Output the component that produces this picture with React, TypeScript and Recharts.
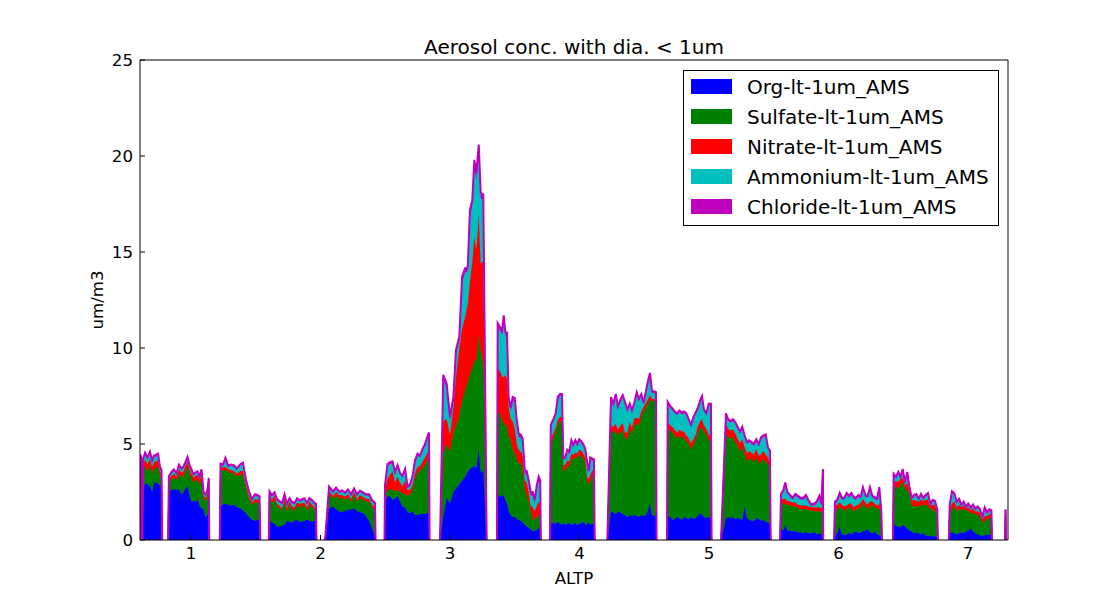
import React from 'react';
import { ComposedChart, Area, XAxis, YAxis, Legend } from 'recharts';

const FONT = '"DejaVu Sans", "Bitstream Vera Sans", sans-serif';

const TITLE = 'Aerosol conc. with dia. < 1um';
const X_LABEL = 'ALTP';
const Y_LABEL = 'um/m3';
const X_TICKS = [1, 2, 3, 4, 5, 6, 7];
const Y_TICKS = [0, 5, 10, 15, 20, 25];
const X_DOMAIN: [number, number] = [0.606, 7.309];
const Y_DOMAIN: [number, number] = [0, 25];

const SERIES = [
  { key: 'org', name: 'Org-lt-1um_AMS', color: '#0000ff', width: 1 },
  { key: 'sulfate', name: 'Sulfate-lt-1um_AMS', color: '#008000', width: 1 },
  { key: 'nitrate', name: 'Nitrate-lt-1um_AMS', color: '#ff0000', width: 1 },
  { key: 'ammonium', name: 'Ammonium-lt-1um_AMS', color: '#00bfbf', width: 1 },
  { key: 'chloride', name: 'Chloride-lt-1um_AMS', color: '#bf00bf', width: 2 },
];

// ALTP where each flight-leg segment rises from / falls back to zero
const SEGMENT_EDGES: [number, number][] = [
  [0.607, 0.619],
  [0.624, 0.777], [0.823, 1.141], [1.222, 1.535], [1.601, 1.969], [2.035, 2.425],
  [2.494, 2.842], [2.923, 3.283], [3.363, 3.701], [3.772, 4.117], [4.215, 4.595],
  [4.676, 5.02], [5.093, 5.476], [5.549, 5.882], [5.966, 6.335], [6.42, 6.767],
  [6.852, 7.185], [7.286, 7.294],
];

const ALTP = [
  [0.609, 0.616],
  [0.629, 0.645, 0.664, 0.683, 0.699, 0.714, 0.730, 0.745, 0.761, 0.772],
  [0.829, 0.849, 0.868, 0.888, 0.907, 0.927, 0.942, 0.958, 0.973, 0.988, 1.004, 1.019, 1.035, 1.050, 1.066, 1.081, 1.097, 1.112, 1.127, 1.137],
  [1.228, 1.247, 1.266, 1.286, 1.309, 1.332, 1.355, 1.378, 1.401, 1.425, 1.448, 1.471, 1.494, 1.517, 1.529],
  [1.606, 1.625, 1.645, 1.664, 1.683, 1.703, 1.722, 1.741, 1.761, 1.780, 1.799, 1.819, 1.838, 1.857, 1.876, 1.896, 1.915, 1.934, 1.954, 1.965],
  [2.066, 2.097, 2.120, 2.143, 2.166, 2.189, 2.212, 2.236, 2.259, 2.282, 2.305, 2.328, 2.351, 2.375, 2.398, 2.421],
  [2.498, 2.517, 2.537, 2.556, 2.575, 2.595, 2.614, 2.633, 2.653, 2.672, 2.691, 2.710, 2.730, 2.749, 2.768, 2.788, 2.807, 2.826, 2.838],
  [2.948, 2.974, 3.000, 3.026, 3.046, 3.072, 3.093, 3.116, 3.137, 3.154, 3.172, 3.188, 3.203, 3.222, 3.237, 3.257],
  [3.368, 3.386, 3.402, 3.415, 3.427, 3.440, 3.453, 3.469, 3.484, 3.500, 3.515, 3.530, 3.546, 3.561, 3.577, 3.592, 3.608, 3.623, 3.639, 3.654, 3.670, 3.685, 3.697],
  [3.778, 3.798, 3.816, 3.832, 3.849, 3.865, 3.875, 3.890, 3.906, 3.921, 3.937, 3.952, 3.968, 3.983, 3.998, 4.014, 4.029, 4.045, 4.058, 4.071, 4.083, 4.097, 4.112],
  [4.243, 4.261, 4.280, 4.297, 4.315, 4.334, 4.351, 4.369, 4.388, 4.405, 4.423, 4.442, 4.459, 4.477, 4.496, 4.514, 4.529, 4.544, 4.560, 4.575, 4.591],
  [4.681, 4.699, 4.717, 4.735, 4.753, 4.771, 4.789, 4.807, 4.825, 4.843, 4.861, 4.879, 4.897, 4.915, 4.933, 4.946, 4.961, 4.979, 4.998, 5.015],
  [5.131, 5.148, 5.166, 5.185, 5.203, 5.221, 5.239, 5.257, 5.275, 5.293, 5.311, 5.330, 5.347, 5.365, 5.384, 5.402, 5.419, 5.438, 5.456, 5.471],
  [5.556, 5.574, 5.589, 5.605, 5.625, 5.646, 5.667, 5.687, 5.708, 5.728, 5.749, 5.770, 5.790, 5.811, 5.832, 5.852, 5.867, 5.880],
  [5.973, 5.991, 6.009, 6.027, 6.045, 6.063, 6.081, 6.099, 6.117, 6.135, 6.153, 6.171, 6.189, 6.207, 6.225, 6.243, 6.261, 6.279, 6.297, 6.315, 6.331],
  [6.426, 6.444, 6.462, 6.480, 6.496, 6.514, 6.531, 6.547, 6.565, 6.583, 6.601, 6.619, 6.637, 6.655, 6.673, 6.691, 6.709, 6.727, 6.745, 6.763],
  [6.859, 6.876, 6.894, 6.913, 6.931, 6.948, 6.967, 6.985, 7.002, 7.021, 7.039, 7.056, 7.075, 7.093, 7.111, 7.129, 7.147, 7.165, 7.181],
  [7.289, 7.291],
];

const ORG = [
  [2.95, 2.9],
  [2.6, 2.95, 2.9, 2.8, 2.5, 3.0, 3.0, 2.95, 2.8, 2.75],
  [2.55, 2.6, 2.65, 2.6, 2.65, 2.35, 2.5, 2.7, 2.8, 2.4, 1.95, 2.05, 2.0, 2.1, 1.8, 1.65, 1.6, 1.2, 1.3, 1.55],
  [1.75, 1.85, 1.9, 1.85, 1.8, 1.85, 1.7, 1.65, 1.55, 1.4, 1.2, 1.05, 1.0, 1.05, 1.0],
  [0.95, 0.9, 0.85, 0.7, 0.7, 0.75, 0.8, 1.0, 0.95, 0.9, 1.0, 1.05, 0.95, 0.95, 1.0, 1.05, 1.0, 0.95, 1.0, 0.95],
  [1.65, 1.75, 1.6, 1.5, 1.45, 1.55, 1.55, 1.6, 1.65, 1.5, 1.45, 1.4, 1.25, 1.0, 0.6, 0.2],
  [2.0, 2.3, 2.25, 2.1, 2.15, 2.3, 2.0, 1.75, 1.7, 1.45, 1.4, 1.5, 1.3, 1.3, 1.35, 1.35, 1.35, 1.4, 1.35],
  [1.2, 2.2, 1.9, 2.5, 2.7, 2.9, 3.1, 3.3, 3.55, 3.7, 3.8, 3.85, 3.7, 4.7, 3.5, 3.65],
  [2.3, 2.25, 2.35, 2.3, 2.1, 1.9, 1.5, 1.3, 1.2, 1.2, 1.1, 1.05, 1.0, 0.9, 0.8, 0.7, 0.65, 0.55, 0.5, 0.45, 0.55, 0.6, 0.6],
  [0.8, 0.9, 0.85, 0.95, 0.85, 0.8, 0.9, 0.8, 0.85, 0.9, 0.8, 0.85, 0.9, 0.8, 0.85, 0.9, 0.95, 0.8, 0.85, 0.9, 0.8, 0.85, 0.8],
  [1.5, 1.45, 1.35, 1.5, 1.45, 1.35, 1.3, 1.2, 1.3, 1.25, 1.3, 1.25, 1.2, 1.3, 1.25, 1.3, 1.55, 1.9, 1.3, 1.25, 1.3],
  [1.25, 1.2, 1.05, 1.1, 1.2, 1.15, 1.05, 1.2, 1.15, 1.1, 1.2, 1.1, 1.15, 1.3, 1.4, 1.3, 1.2, 1.15, 1.2, 1.15],
  [1.15, 1.2, 1.15, 1.2, 1.1, 1.15, 1.1, 1.05, 1.75, 1.15, 1.05, 1.0, 1.0, 1.15, 1.1, 1.0, 1.05, 0.95, 0.9, 0.85],
  [0.55, 0.5, 0.8, 0.5, 0.5, 0.45, 0.45, 0.4, 0.4, 0.35, 0.4, 0.35, 0.35, 0.4, 0.3, 0.35, 0.3, 0.35],
  [0.2, 0.35, 0.7, 0.3, 0.25, 0.3, 0.35, 0.3, 0.4, 0.45, 0.35, 0.4, 0.45, 0.5, 0.55, 0.4, 0.35, 0.45, 0.3, 0.25, 0.2],
  [0.8, 0.75, 0.7, 0.65, 0.8, 0.7, 0.6, 0.5, 0.45, 0.35, 0.4, 0.35, 0.3, 0.35, 0.25, 0.2, 0.25, 0.2, 0.2, 0.15],
  [0.35, 0.4, 0.35, 0.3, 0.35, 0.4, 0.35, 0.45, 0.5, 0.6, 0.45, 0.35, 0.3, 0.25, 0.2, 0.25, 0.3, 0.25, 0.3],
  [0.3, 0.3],
];

const SULFATE = [
  [0.8, 0.75],
  [0.9, 0.9, 0.7, 1.1, 0.95, 0.7, 0.75, 0.85, 0.55, 0.45],
  [0.45, 0.55, 0.6, 0.5, 0.8, 0.9, 0.85, 0.9, 1.0, 1.05, 1.25, 0.95, 1.1, 1.05, 1.1, 1.5, 0.55, 0.85, 1.0, 1.3],
  [1.85, 1.8, 1.75, 1.7, 1.7, 1.6, 1.6, 1.75, 1.85, 1.3, 0.95, 0.8, 0.95, 0.9, 0.9],
  [1.2, 1.05, 1.25, 1.05, 0.95, 0.8, 1.2, 0.5, 0.85, 0.7, 0.55, 0.75, 0.75, 0.8, 0.8, 0.5, 0.8, 0.75, 0.55, 0.55],
  [0.75, 0.4, 0.75, 0.65, 0.75, 0.55, 0.7, 0.4, 0.65, 0.5, 0.75, 0.7, 0.75, 1.0, 1.1, 1.35],
  [0.3, 0.3, 0.4, 0.5, 0.4, 0.3, 0.5, 0.7, 0.7, 0.85, 0.95, 1.1, 1.9, 2.2, 2.25, 2.45, 2.55, 2.8, 2.95],
  [3.3, 2.8, 2.7, 3.1, 3.2, 3.6, 4.1, 4.5, 4.65, 4.9, 5.2, 5.45, 5.7, 6.0, 6.3, 5.55],
  [4.3, 4.35, 3.85, 3.75, 3.9, 4.0, 3.9, 3.9, 3.5, 3.3, 3.1, 2.95, 3.0, 2.7, 1.8, 1.6, 1.35, 0.95, 0.55, 0.65, 0.65, 0.7, 0.6],
  [4.2, 4.4, 4.75, 5.05, 5.35, 5.4, 2.7, 2.8, 3.05, 2.9, 3.4, 3.35, 3.4, 3.5, 3.6, 3.45, 3.25, 3.2, 2.1, 2.05, 2.3, 2.45, 2.65],
  [4.1, 4.15, 4.35, 3.95, 4.15, 4.35, 3.95, 4.1, 4.5, 4.25, 4.7, 4.75, 4.8, 5.1, 5.45, 5.6, 5.55, 5.4, 5.95, 6.0, 5.95],
  [4.5, 4.5, 4.55, 4.3, 4.1, 4.25, 4.3, 4.1, 4.0, 3.9, 3.5, 3.85, 4.05, 4.3, 4.4, 4.6, 4.45, 4.35, 4.0, 3.95],
  [4.45, 4.15, 4.15, 4.15, 4.0, 3.75, 3.5, 3.8, 2.7, 2.95, 3.2, 3.2, 3.05, 3.2, 2.9, 3.05, 3.2, 3.1, 3.05, 2.75],
  [1.35, 1.4, 1.05, 1.35, 1.3, 1.3, 1.3, 1.25, 1.2, 1.25, 1.2, 1.2, 1.2, 1.1, 1.2, 1.15, 1.15, 1.25],
  [1.35, 1.25, 1.0, 1.35, 1.25, 1.3, 1.35, 1.35, 1.1, 1.1, 1.3, 1.3, 1.45, 1.25, 1.05, 1.35, 1.45, 1.25, 1.3, 1.4, 1.25],
  [1.95, 2.0, 2.0, 2.25, 2.15, 2.0, 2.0, 1.9, 1.3, 1.45, 1.35, 1.4, 1.5, 1.5, 1.55, 1.6, 1.35, 1.4, 1.3, 1.25],
  [1.05, 1.2, 1.4, 1.2, 1.25, 1.15, 1.25, 1.1, 1.0, 0.8, 0.95, 1.0, 1.0, 0.95, 0.7, 0.75, 0.8, 0.9, 0.9],
  [0.9, 0.9],
];

const NITRATE = [
  [0.3, 0.3],
  [0.35, 0.35, 0.35, 0.35, 0.35, 0.35, 0.35, 0.35, 0.2, 0.2],
  [0.15, 0.2, 0.2, 0.2, 0.25, 0.25, 0.25, 0.25, 0.3, 0.25, 0.25, 0.25, 0.25, 0.25, 0.25, 0.3, 0.15, 0.15, 0.15, 0.2],
  [0.15, 0.15, 0.15, 0.15, 0.15, 0.15, 0.15, 0.2, 0.2, 0.15, 0.15, 0.1, 0.2, 0.15, 0.15],
  [0.15, 0.15, 0.2, 0.15, 0.15, 0.1, 0.15, 0.15, 0.2, 0.15, 0.15, 0.15, 0.2, 0.15, 0.15, 0.15, 0.2, 0.15, 0.15, 0.15],
  [0.15, 0.15, 0.15, 0.2, 0.15, 0.15, 0.15, 0.15, 0.2, 0.15, 0.15, 0.15, 0.15, 0.15, 0.15, 0.15],
  [0.3, 0.6, 0.75, 1.0, 0.45, 0.7, 0.5, 0.35, 0.7, 0.3, 0.25, 0.25, 0.3, 0.3, 0.25, 0.3, 0.4, 0.35, 0.4],
  [1.7, 1.3, 0.9, 1.3, 2.6, 3.5, 3.8, 3.8, 4.1, 4.9, 5.5, 6.5, 5.7, 6.3, 4.6, 5.3],
  [2.3, 2.2, 2.3, 2.45, 2.6, 2.5, 1.5, 1.1, 1.5, 1.3, 0.8, 0.7, 0.6, 0.8, 0.5, 0.7, 0.5, 0.3, 0.65, 0.4, 0.6, 0.7, 0.7],
  [0.3, 0.25, 0.25, 0.25, 0.2, 0.2, 0.3, 0.3, 0.25, 0.3, 0.3, 0.25, 0.25, 0.2, 0.25, 0.3, 0.3, 0.3, 0.3, 0.25, 0.3, 0.3, 0.3],
  [0.35, 0.3, 0.35, 0.3, 0.35, 0.4, 0.35, 0.3, 0.35, 0.35, 0.35, 0.35, 0.3, 0.3, 0.25, 0.25, 0.25, 0.25, 0.1, 0.1, 0.05],
  [0.3, 0.3, 0.3, 0.35, 0.3, 0.35, 0.3, 0.35, 0.3, 0.3, 0.35, 0.3, 0.3, 0.35, 0.4, 0.4, 0.3, 0.3, 0.3, 0.3],
  [0.4, 0.45, 0.4, 0.4, 0.45, 0.4, 0.45, 0.4, 0.4, 0.4, 0.4, 0.35, 0.4, 0.4, 0.4, 0.4, 0.4, 0.4, 0.35, 0.35],
  [0.2, 0.25, 0.3, 0.2, 0.2, 0.2, 0.2, 0.2, 0.2, 0.2, 0.2, 0.2, 0.15, 0.2, 0.2, 0.2, 0.2, 0.2],
  [0.2, 0.25, 0.25, 0.2, 0.25, 0.2, 0.2, 0.25, 0.2, 0.25, 0.2, 0.25, 0.25, 0.2, 0.25, 0.25, 0.2, 0.2, 0.2, 0.25, 0.0],
  [0.3, 0.3, 0.35, 0.3, 0.3, 0.2, 0.35, 0.3, 0.3, 0.3, 0.3, 0.25, 0.3, 0.2, 0.3, 0.3, 0.2, 0.25, 0.3, 0.1],
  [0.2, 0.3, 0.25, 0.2, 0.25, 0.15, 0.2, 0.1, 0.2, 0.15, 0.25, 0.15, 0.2, 0.2, 0.15, 0.25, 0.15, 0.2, 0.15],
  [0.15, 0.15],
];

const AMMONIUM = [
  [0.3, 0.25],
  [0.25, 0.25, 0.25, 0.25, 0.25, 0.25, 0.25, 0.25, 0.15, 0.15],
  [0.1, 0.1, 0.15, 0.1, 0.15, 0.15, 0.15, 0.15, 0.15, 0.15, 0.15, 0.1, 0.1, 0.1, 0.1, 0.15, 0.1, 0.1, 0.1, 0.1],
  [0.15, 0.05, 0.4, 0.1, 0.2, 0.2, 0.2, 0.25, 0.35, 0.2, 0.15, 0.1, 0.15, 0.15, 0.15],
  [0.15, 0.15, 0.1, 0.15, 0.15, 0.2, 0.15, 0.15, 0.1, 0.15, 0.15, 0.15, 0.1, 0.15, 0.15, 0.15, 0.1, 0.15, 0.15, 0.15],
  [0.15, 0.15, 0.15, 0.1, 0.15, 0.15, 0.15, 0.15, 0.1, 0.15, 0.15, 0.15, 0.15, 0.15, 0.15, 0.15],
  [0.15, 0.65, 0.55, 0.4, 0.45, 0.5, 0.4, 0.45, 0.5, 0.1, 0.2, 0.35, 0.55, 0.6, 0.45, 0.55, 0.6, 0.75, 0.8],
  [2.2, 1.6, 0.7, 0.35, 1.2, 0.4, 2.4, 2.3, 1.7, 3.4, 2.9, 3.6, 3.7, 3.2, 3.4, 3.2],
  [2.2, 2.1, 2.2, 3.0, 2.05, 2.2, 0.3, 0.4, 1.05, 1.4, 1.1, 0.65, 0.7, 0.7, 0.35, 0.4, 0.4, 0.5, 0.6, 0.4, 0.85, 1.1, 1.0],
  [0.6, 0.65, 0.65, 1.1, 1.1, 1.1, 0.3, 0.3, 0.45, 0.4, 0.6, 0.4, 0.55, 0.4, 0.45, 0.4, 0.4, 0.35, 0.75, 0.3, 0.8, 0.55, 0.35],
  [1.4, 1.1, 1.45, 1.1, 1.25, 1.35, 1.5, 1.1, 0.85, 0.8, 0.7, 1.25, 0.95, 0.8, 0.1, 0.55, 0.85, 1.05, 0.3, 0.3, 0.3],
  [1.05, 0.9, 0.85, 0.85, 0.9, 0.9, 0.9, 0.95, 1.05, 0.9, 0.85, 1.05, 1.05, 0.85, 1.0, 1.1, 0.75, 0.7, 1.5, 1.6],
  [0.5, 0.4, 0.4, 0.45, 0.5, 0.5, 0.5, 0.55, 0.5, 0.5, 0.45, 0.45, 0.45, 0.4, 0.5, 0.8, 0.7, 0.95, 0.4, 0.6],
  [0.2, 0.35, 0.75, 0.35, 0.25, 0.15, 0.35, 0.35, 0.3, 0.3, 0.45, 0.2, 0.05, 0.1, 0.2, 0.5, 0.15, 0.2],
  [0.15, 0.15, 0.4, 0.25, 0.35, 0.55, 0.3, 0.45, 0.45, 0.3, 0.4, 0.2, 0.5, 0.3, 0.35, 0.65, 0.2, 0.25, 0.25, 0.75, 0.0],
  [0.3, 0.15, 0.4, 0.0, 0.35, 0.0, 0.5, 0.0, 0.05, 0.15, 0.25, 0.05, 0.2, 0.05, 0.15, 0.25, 0.0, 0.15, 0.15, 0.0],
  [0.15, 0.55, 0.35, 0.2, 0.2, 0.05, 0.1, 0.0, 0.1, 0.05, 0.1, 0.05, 0.15, 0.1, 0.05, 0.35, 0.1, 0.15, 0.1],
  [0.1, 0.1],
];

const CHLORIDE = [
  [0.1, 0.1],
  [0.1, 0.1, 0.1, 0.1, 0.1, 0.1, 0.1, 0.1, 0.1, 0.1],
  [0.08, 0.08, 0.08, 0.08, 0.08, 0.08, 0.08, 0.08, 0.08, 0.08, 0.08, 0.08, 0.08, 0.08, 0.08, 0.08, 0.08, 0.08, 0.08, 0.08],
  [0.08, 0.08, 0.08, 0.08, 0.08, 0.08, 0.08, 0.08, 0.08, 0.08, 0.08, 0.08, 0.08, 0.08, 0.08],
  [0.08, 0.08, 0.08, 0.08, 0.08, 0.08, 0.08, 0.08, 0.08, 0.08, 0.08, 0.08, 0.08, 0.08, 0.08, 0.08, 0.08, 0.08, 0.08, 0.08],
  [0.08, 0.08, 0.08, 0.08, 0.08, 0.08, 0.08, 0.08, 0.08, 0.08, 0.08, 0.08, 0.08, 0.08, 0.08, 0.08],
  [0.1, 0.1, 0.1, 0.1, 0.1, 0.1, 0.1, 0.1, 0.1, 0.1, 0.1, 0.1, 0.1, 0.1, 0.1, 0.1, 0.1, 0.1, 0.1],
  [0.2, 0.25, 0.2, 0.2, 0.2, 0.2, 0.3, 0.25, 0.2, 0.3, 0.3, 0.4, 0.3, 0.4, 0.3, 0.3],
  [0.2, 0.2, 0.2, 0.2, 0.2, 0.2, 0.2, 0.2, 0.2, 0.2, 0.2, 0.2, 0.2, 0.2, 0.2, 0.2, 0.2, 0.2, 0.2, 0.2, 0.2, 0.2, 0.2],
  [0.1, 0.1, 0.1, 0.1, 0.1, 0.1, 0.1, 0.1, 0.1, 0.1, 0.1, 0.1, 0.1, 0.1, 0.1, 0.1, 0.1, 0.1, 0.1, 0.1, 0.1, 0.1, 0.1],
  [0.1, 0.1, 0.1, 0.1, 0.1, 0.1, 0.1, 0.1, 0.1, 0.1, 0.1, 0.1, 0.1, 0.1, 0.1, 0.1, 0.1, 0.1, 0.1, 0.1, 0.1],
  [0.1, 0.1, 0.1, 0.1, 0.1, 0.1, 0.1, 0.1, 0.1, 0.1, 0.1, 0.1, 0.1, 0.1, 0.1, 0.1, 0.1, 0.1, 0.1, 0.1],
  [0.1, 0.1, 0.1, 0.1, 0.1, 0.1, 0.1, 0.1, 0.1, 0.1, 0.1, 0.1, 0.1, 0.1, 0.1, 0.1, 0.1, 0.1, 0.1, 0.1],
  [0.1, 0.1, 0.1, 0.1, 0.1, 0.1, 0.1, 0.1, 0.1, 0.1, 0.1, 0.1, 0.1, 0.1, 0.1, 0.1, 0.1, 1.7],
  [0.1, 0.1, 0.1, 0.1, 0.1, 0.1, 0.1, 0.1, 0.1, 0.1, 0.1, 0.1, 0.1, 0.1, 0.1, 0.1, 0.1, 0.1, 0.1, 0.1, 0.05],
  [0.1, 0.1, 0.1, 0.1, 0.1, 0.1, 0.1, 0.1, 0.1, 0.1, 0.1, 0.1, 0.1, 0.1, 0.1, 0.1, 0.1, 0.1, 0.1, 0.1],
  [0.1, 0.1, 0.1, 0.1, 0.1, 0.1, 0.1, 0.1, 0.1, 0.1, 0.1, 0.1, 0.1, 0.1, 0.1, 0.1, 0.1, 0.1, 0.1],
  [0.1, 0.1],
];

type Row = {
  altp: number;
  org: number | null;
  sulfate: number | null;
  nitrate: number | null;
  ammonium: number | null;
  chloride: number | null;
};

function buildRows(): Row[] {
  const rows: Row[] = [];
  const zero = (altp: number): Row => ({ altp, org: 0, sulfate: 0, nitrate: 0, ammonium: 0, chloride: 0 });
  const gap = (altp: number): Row => ({ altp, org: null, sulfate: null, nitrate: null, ammonium: null, chloride: null });
  for (let s = 0; s < ALTP.length; s++) {
    const [start, end] = SEGMENT_EDGES[s];
    rows.push(zero(start));
    for (let i = 0; i < ALTP[s].length; i++) {
      rows.push({
        altp: ALTP[s][i],
        org: ORG[s][i],
        sulfate: SULFATE[s][i],
        nitrate: NITRATE[s][i],
        ammonium: AMMONIUM[s][i],
        chloride: CHLORIDE[s][i],
      });
    }
    rows.push(zero(end));
    if (s < ALTP.length - 1) rows.push(gap((end + SEGMENT_EDGES[s + 1][0]) / 2));
  }
  return rows;
}

const ROWS = buildRows();

function LegendBox() {
  return (
    <div
      style={{
        position: 'relative',
        boxSizing: 'border-box',
        width: 316,
        height: 156,
        border: '1px solid #000',
        background: '#fff',
        fontFamily: FONT,
        fontSize: 20,
        color: '#000',
      }}
    >
      {SERIES.map((s, i) => (
        <React.Fragment key={s.key}>
          <div
            style={{
              position: 'absolute',
              left: 7,
              top: 8 + 30 * i,
              width: 41,
              height: 15,
              background: s.color,
            }}
          />
          <div
            style={{
              position: 'absolute',
              left: 63,
              top: 5 + 30 * i,
              height: 22,
              lineHeight: '22px',
              whiteSpace: 'nowrap',
            }}
          >
            {s.name}
          </div>
        </React.Fragment>
      ))}
    </div>
  );
}

export default function App() {
  const tickStyle = { fill: '#000', fontSize: 16.67, fontFamily: FONT };
  return (
    <div style={{ position: 'absolute', left: 0, top: 0, width: 1120, height: 600, background: '#fff' }}>
      <ComposedChart
        width={1120}
        height={600}
        data={ROWS}
        margin={{ top: 59, right: 111, bottom: 30, left: 80 }}
      >
        <XAxis
          dataKey="altp"
          type="number"
          domain={X_DOMAIN}
          allowDataOverflow
          ticks={X_TICKS}
          interval={0}
          tickSize={-5}
          tickMargin={12}
          height={30}
          axisLine={{ stroke: '#000' }}
          tickLine={{ stroke: '#000' }}
          tick={tickStyle}
          label={{ value: X_LABEL, position: 'bottom', offset: 2, fill: '#000', fontSize: 16.67, fontFamily: FONT }}
        />
        <XAxis
          xAxisId="top"
          orientation="top"
          dataKey="altp"
          type="number"
          domain={X_DOMAIN}
          allowDataOverflow
          ticks={X_TICKS}
          interval={0}
          tickSize={-5}
          height={1}
          axisLine={{ stroke: '#000' }}
          tickLine={{ stroke: '#000' }}
          tick={false}
        />
        <YAxis
          type="number"
          domain={Y_DOMAIN}
          allowDataOverflow
          ticks={Y_TICKS}
          interval={0}
          tickSize={-5}
          tickMargin={12}
          width={60}
          axisLine={{ stroke: '#000' }}
          tickLine={{ stroke: '#000' }}
          tick={tickStyle}
        />
        <YAxis
          yAxisId="right"
          orientation="right"
          type="number"
          domain={Y_DOMAIN}
          allowDataOverflow
          ticks={Y_TICKS}
          interval={0}
          tickSize={-5}
          width={1}
          axisLine={{ stroke: '#000' }}
          tickLine={{ stroke: '#000' }}
          tick={false}
        />
        {SERIES.map((s) => (
          <Area
            key={s.key}
            dataKey={s.key}
            name={s.name}
            stackId="stack"
            type="linear"
            fill={s.color}
            fillOpacity={1}
            stroke={s.color}
            strokeWidth={s.width}
            connectNulls={false}
            dot={false}
            activeDot={false}
            isAnimationActive={false}
          />
        ))}
        <Legend
          layout="vertical"
          align="center"
          verticalAlign="middle"
          wrapperStyle={{ position: 'absolute', left: 683, top: 70, width: 316, height: 156, margin: 0 }}
          content={() => <LegendBox />}
        />
        <text x={574} y={54} textAnchor="middle" fontSize={20} fontFamily={FONT} fill="#000">
          {TITLE}
        </text>
        <text
          x={103}
          y={300}
          textAnchor="middle"
          fontSize={16.67}
          fontFamily={FONT}
          fill="#000"
          transform="rotate(-90 103 300)"
        >
          {Y_LABEL}
        </text>
      </ComposedChart>
    </div>
  );
}
